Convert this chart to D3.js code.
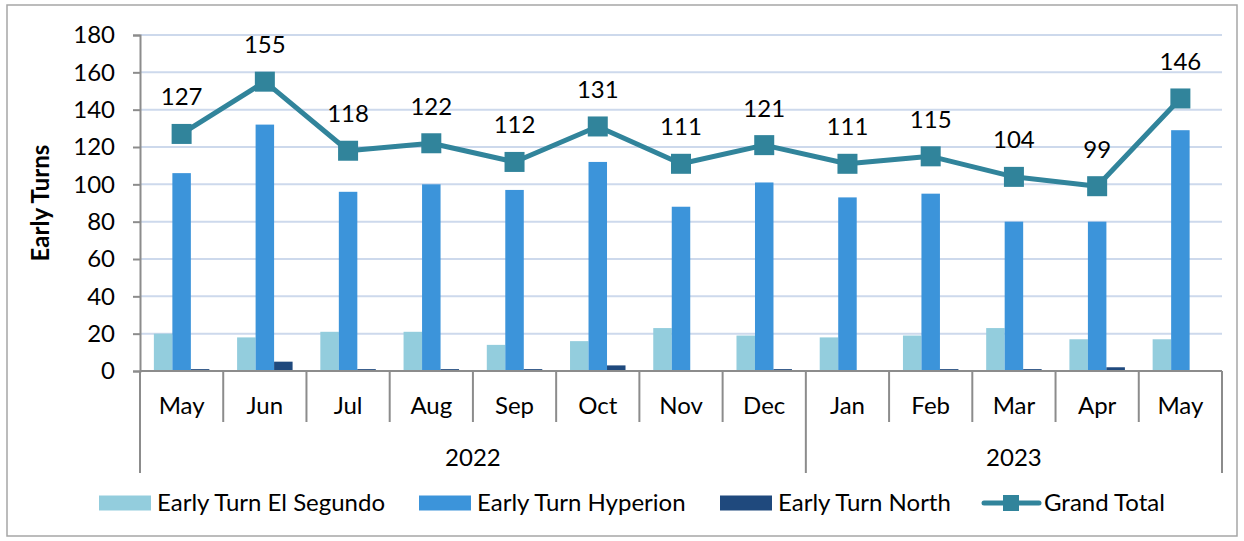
<!DOCTYPE html>
<html>
<head>
<meta charset="utf-8">
<script src="https://cdn.jsdelivr.net/npm/d3@7"></script>
<style>
  body { margin: 0; background: #fff; }
  text { font-family: Lato, "Open Sans", sans-serif; fill: #000; }
</style>
</head>
<body>
<svg id="chart" width="1244" height="541"></svg>
<script>
const months = ["May", "Jun", "Jul", "Aug", "Sep", "Oct", "Nov", "Dec", "Jan", "Feb", "Mar", "Apr", "May"];
const years = ["2022", "2022", "2022", "2022", "2022", "2022", "2022", "2022", "2023", "2023", "2023", "2023", "2023"];
const elSegundo = [20, 18, 21, 21, 14, 16, 23, 19, 18, 19, 23, 17, 17];
const hyperion = [106, 132, 96, 100, 97, 112, 88, 101, 93, 95, 80, 80, 129];
const north = [1, 5, 1, 1, 1, 3, 0, 1, 0, 1, 1, 2, 0];
const grandTotal = [127, 155, 118, 122, 112, 131, 111, 121, 111, 115, 104, 99, 146];
const yTicks = [0, 20, 40, 60, 80, 100, 120, 140, 160, 180];

const barSeries = [
  {name: "Early Turn El Segundo", values: elSegundo, color: "#93cddd"},
  {name: "Early Turn Hyperion", values: hyperion, color: "#3c94da"},
  {name: "Early Turn North", values: north, color: "#1f497d"}
];
const lineColor = "#31849b";
const fs = "24px";

const plot = {left: 140, right: 1222, top: 35, bottom: 371};
const svg = d3.select("#chart");

// outer frame
svg.append("rect")
  .attr("x", 7).attr("y", 5).attr("width", 1230).attr("height", 531)
  .attr("fill", "none").attr("stroke", "#a6a6a6").attr("stroke-width", 1.5);

const idx = d3.range(months.length);
const x = d3.scaleBand().domain(idx).range([plot.left, plot.right]).padding(0);
const xInner = d3.scaleBand().domain(d3.range(barSeries.length))
  .range([0, x.bandwidth()]).paddingInner(0).paddingOuter(0.75);
const y = d3.scaleLinear().domain([0, 180]).range([plot.bottom, plot.top]);

// gridlines
svg.append("g").selectAll("line").data(yTicks.slice(1)).enter().append("line")
  .attr("x1", plot.left).attr("x2", plot.right)
  .attr("y1", d => y(d)).attr("y2", d => y(d))
  .attr("stroke", "#cdd9ec").attr("stroke-width", 2);

// y axis
const yAxis = svg.append("g")
  .attr("transform", "translate(" + plot.left + ",0)")
  .call(d3.axisLeft(y).tickValues(yTicks).tickSize(7).tickPadding(18));
yAxis.select(".domain").attr("stroke", "#8c8c8c").attr("stroke-width", 2);
yAxis.selectAll(".tick line").attr("stroke", "#8c8c8c").attr("stroke-width", 2);
yAxis.selectAll("text").style("font-size", fs).attr("font-family", null);

svg.append("text")
  .attr("transform", "translate(41," + (plot.top + plot.bottom) / 2 + ") rotate(-90)")
  .attr("text-anchor", "middle").attr("dy", "0.35em")
  .style("font-size", "24px").style("font-weight", "bold")
  .text("Early Turns");

// bars
barSeries.forEach(function (s, si) {
  svg.append("g").selectAll("rect").data(s.values).enter().append("rect")
    .attr("x", (d, i) => x(i) + xInner(si))
    .attr("width", xInner.bandwidth())
    .attr("y", d => y(d))
    .attr("height", d => y(0) - y(d))
    .attr("fill", s.color);
});

// category axis
const axisG = svg.append("g").attr("stroke", "#8c8c8c").attr("stroke-width", 2);
axisG.append("line")
  .attr("x1", plot.left).attr("x2", plot.right)
  .attr("y1", plot.bottom).attr("y2", plot.bottom);

const yearGroups = [];
idx.forEach(function (i) {
  if (i === 0 || years[i] !== years[i - 1]) yearGroups.push({year: years[i], start: i, end: i});
  else yearGroups[yearGroups.length - 1].end = i;
});
const yearEdges = new Set(yearGroups.map(g => g.start));

idx.concat([months.length]).forEach(function (i) {
  const xx = i < months.length ? x(i) : plot.right;
  const long = i === months.length || yearEdges.has(i);
  axisG.append("line")
    .attr("x1", xx).attr("x2", xx)
    .attr("y1", plot.bottom).attr("y2", long ? 473 : 422);
});

svg.append("g").selectAll("text").data(idx).enter().append("text")
  .attr("x", i => x(i) + x.bandwidth() / 2)
  .attr("y", 406).attr("dy", "0.35em")
  .attr("text-anchor", "middle").style("font-size", fs)
  .text(i => months[i]);

svg.append("g").selectAll("text").data(yearGroups).enter().append("text")
  .attr("x", g => (x(g.start) + x(g.end) + x.bandwidth()) / 2)
  .attr("y", 458).attr("dy", "0.35em")
  .attr("text-anchor", "middle").style("font-size", fs)
  .text(g => g.year);

// grand total line
const cx = i => x(i) + x.bandwidth() / 2;
svg.append("path")
  .datum(grandTotal)
  .attr("d", d3.line().x((d, i) => cx(i)).y(d => y(d)))
  .attr("fill", "none").attr("stroke", lineColor).attr("stroke-width", 5)
  .attr("stroke-linejoin", "round");

svg.append("g").selectAll("rect").data(grandTotal).enter().append("rect")
  .attr("x", (d, i) => cx(i) - 10).attr("y", d => y(d) - 10)
  .attr("width", 20).attr("height", 20).attr("fill", lineColor);

svg.append("g").selectAll("text").data(grandTotal).enter().append("text")
  .attr("x", (d, i) => cx(i)).attr("y", d => y(d) - 37).attr("dy", "0.35em")
  .attr("text-anchor", "middle").style("font-size", fs)
  .text(d => d);

// legend
const legendItems = [
  {name: barSeries[0].name, color: barSeries[0].color, x: 99, type: "bar"},
  {name: barSeries[1].name, color: barSeries[1].color, x: 419, type: "bar"},
  {name: barSeries[2].name, color: barSeries[2].color, x: 720, type: "bar"},
  {name: "Grand Total", color: lineColor, x: 984, type: "line"}
];
const legend = svg.append("g").attr("transform", "translate(0,503)");
legendItems.forEach(function (it) {
  const g = legend.append("g").attr("transform", "translate(" + it.x + ",0)");
  if (it.type === "bar") {
    g.append("rect").attr("x", 0).attr("y", -7.5).attr("width", 52).attr("height", 15).attr("fill", it.color);
  } else {
    g.append("line").attr("x1", 0).attr("x2", 55).attr("y1", 0).attr("y2", 0)
      .attr("stroke", it.color).attr("stroke-width", 5).attr("stroke-linecap", "round");
    g.append("rect").attr("x", 19).attr("y", -8).attr("width", 16).attr("height", 16).attr("fill", it.color);
  }
  g.append("text").attr("x", it.type === "bar" ? 58 : 60).attr("dy", "0.35em")
    .style("font-size", fs).text(it.name);
});
</script>
</body>
</html>
